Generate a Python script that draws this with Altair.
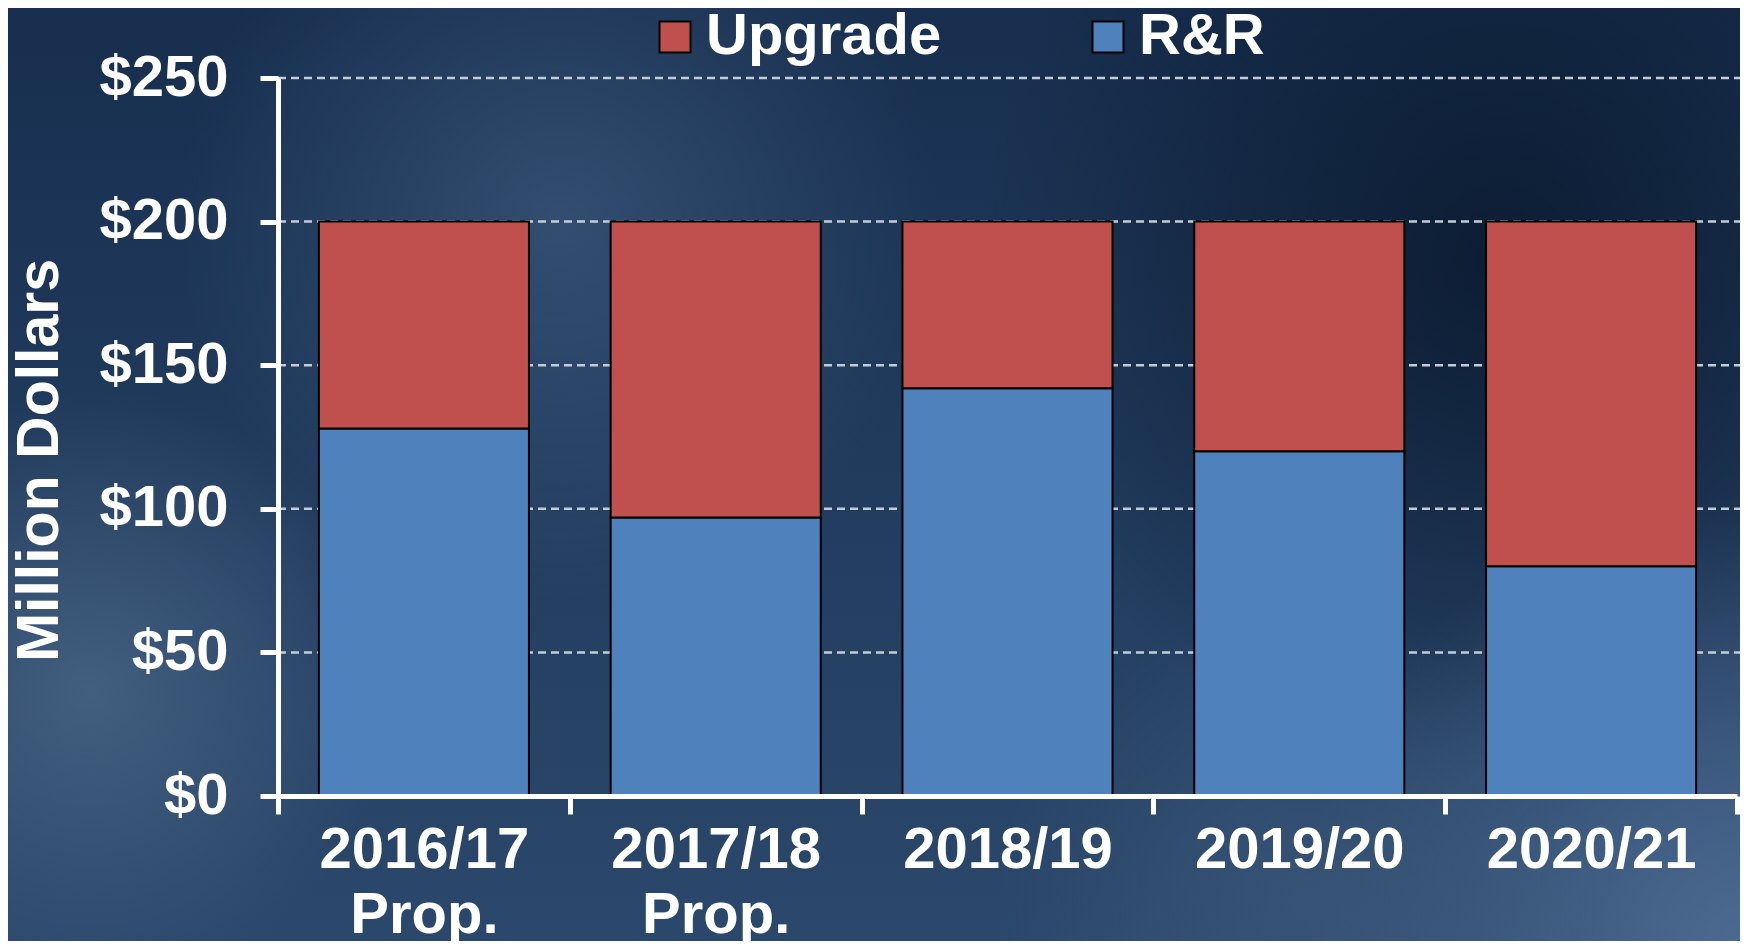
import altair as alt
import pandas as pd

# ---- data ----
years = ["2016/17 Prop.", "2017/18 Prop.", "2018/19", "2019/20", "2020/21"]
rr = [128, 97, 142, 120, 80]
upgrade = [72, 103, 58, 80, 120]
series = ["Upgrade", "R&R"]
colors = ["#C0504D", "#4F81BD"]
y_ticks = [0, 50, 100, 150, 200, 250]
grid_vals = [50, 100, 150, 200, 250]

rows = []
for y, a, b in zip(years, rr, upgrade):
    rows.append({"year": y, "series": "R&R", "value": a, "ord": 0})
    rows.append({"year": y, "series": "Upgrade", "value": b, "ord": 1})
df = pd.DataFrame(rows)
grid_df = pd.DataFrame({"g": grid_vals})

W, H = 1459, 718
PL, PT = 270, 70
FONT = "Liberation Sans"

# ---- background decoration (page coords -> plot coords) ----
OX, OY = 278, 78
one = alt.Data(values=[{"k": 1}])


def glow(cx, cy, r, rgba):
    grad = alt.RadialGradient(
        gradient="radial", x1=0.5, y1=0.5, r1=0, x2=0.5, y2=0.5, r2=0.5,
        stops=[alt.GradientStop(offset=0, color=rgba),
               alt.GradientStop(offset=1, color=rgba.rsplit(",", 1)[0] + ",0)")])
    return alt.Chart(one).mark_rect(fill=grad, strokeWidth=0).encode(
        x=alt.value(cx - r - OX), x2=alt.value(cx + r - OX),
        y=alt.value(cy - r - OY), y2=alt.value(cy + r - OY))


base_grad = alt.LinearGradient(
    gradient="linear", x1=0, y1=0, x2=0, y2=1,
    stops=[alt.GradientStop(offset=0, color="#172e4e"),
           alt.GradientStop(offset=1, color="#2c4a6e")])
base = alt.Chart(one).mark_rect(fill=base_grad, strokeWidth=0).encode(
    x=alt.value(-PL - 10), x2=alt.value(W + 60),
    y=alt.value(-PT - 10), y2=alt.value(H + 200))

glows = [
    glow(560, 220, 380, "rgba(72,102,138,0.5)"),
    glow(90, 690, 300, "rgba(82,110,142,0.65)"),
    glow(1500, 260, 520, "rgba(8,22,42,0.8)"),
    glow(1748, 950, 450, "rgba(88,118,158,0.75)"),
    glow(1300, 900, 300, "rgba(70,98,130,0.45)"),
]

y_axis = alt.Axis(values=y_ticks, labelExpr="'$' + datum.value",
                  labelFont=FONT, labelFontSize=58, labelFontWeight="bold",
                  labelColor="white", labelPadding=32,
                  tickSize=18, tickWidth=5, tickColor="white",
                  domainColor="white", domainWidth=5, grid=False, zindex=1,
                  title="Million Dollars", titleFont=FONT, titleFontSize=59,
                  titleFontWeight="bold", titleColor="white", titleAngle=270,
                  titleX=-221, titleY=382, titleAlign="center",
                  titleBaseline="alphabetic")
y_scale = alt.Scale(domain=[0, 250])

grid = alt.Chart(grid_df).mark_rule(
    stroke="#c4ccd4", strokeWidth=2.5, strokeDash=[8, 5]
).encode(
    y=alt.Y("g:Q", axis=y_axis, scale=y_scale, title="Million Dollars"),
    x=alt.value(0), x2=alt.value(W + 4),
)

bars = alt.Chart(df).mark_bar(stroke="black", strokeWidth=2, width={"band": 0.72}).encode(
    x=alt.X("year:N", sort=years, title=None,
            scale=alt.Scale(paddingInner=0, paddingOuter=0),
            axis=alt.Axis(labelExpr="split(datum.label, ' ')", labelAngle=0,
                          labelFont=FONT, labelFontSize=58, labelFontWeight="bold",
                          labelColor="white", labelLineHeight=65, labelPadding=7,
                          labelLimit=0,
                          tickBand="extent", tickSize=18, tickWidth=5, tickColor="white",
                          domainColor="white", domainWidth=5, grid=False, zindex=1)),
    y=alt.Y("value:Q", stack="zero", scale=y_scale, axis=y_axis, title="Million Dollars"),
    color=alt.Color("series:N", scale=alt.Scale(domain=series, range=colors),
                    legend=alt.Legend(title=None, orient="none", direction="horizontal",
                                      legendX=368, legendY=-70, padding=0,
                                      symbolType="square", symbolSize=961,
                                      symbolStrokeColor="black", symbolStrokeWidth=2,
                                      symbolOpacity=1, labelLimit=0,
                                      labelFont=FONT, labelFontSize=58, labelFontWeight="bold",
                                      labelColor="white", labelOffset=2,
                                      columnPadding=137)),
    order=alt.Order("ord:Q"),
)

chart = alt.layer(base, *glows, grid, bars).properties(
    width=W, height=H,
    autosize=alt.AutoSizeParams(type="none"),
    padding={"left": PL, "top": PT, "right": 3, "bottom": 145},
).configure_view(stroke=None)

chart.save("out.html", embed_options={"renderer": "svg", "actions": False})
